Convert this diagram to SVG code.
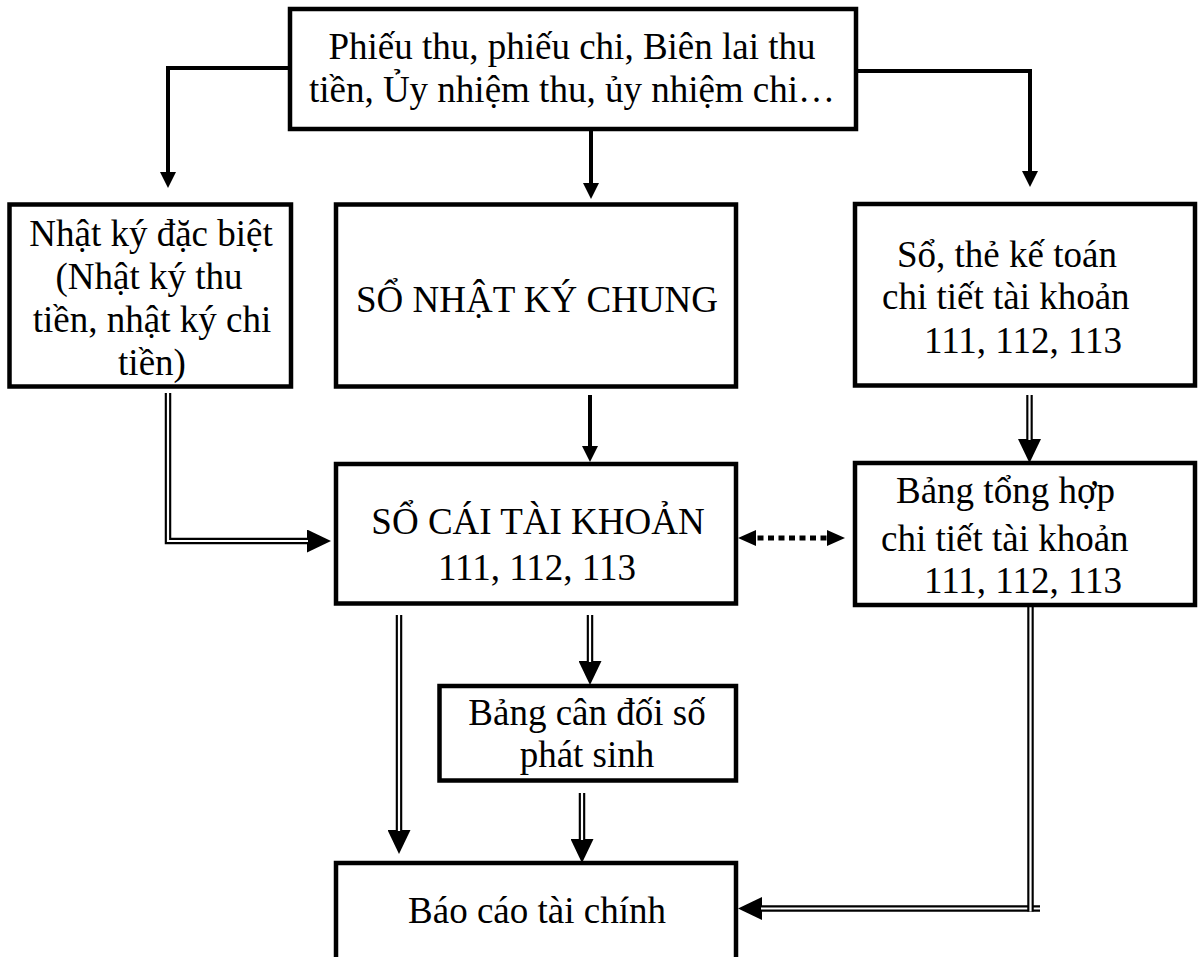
<svg xmlns="http://www.w3.org/2000/svg" width="1198" height="957" viewBox="0 0 1198 957">
  <style>
    .box { fill: #ffffff; stroke: #000000; stroke-width: 4.5; }
    .lbl { font-family: "Liberation Serif", "Times New Roman", serif; font-size: 37px; fill: #000000; }
    .mid { text-anchor: middle; }
    .single { fill: none; stroke: #000000; stroke-width: 4; }
    .dbl-outer { fill: none; stroke: #000000; stroke-width: 6.5; stroke-linejoin: miter; }
    .dbl-inner { fill: none; stroke: #ffffff; stroke-width: 2.2; stroke-linejoin: miter; }
    .dotted { fill: none; stroke: #000000; stroke-width: 5; stroke-dasharray: 6 4.5; }
  </style>
  <defs>
    <marker id="head-s" markerUnits="userSpaceOnUse" markerWidth="16" markerHeight="16" refX="8" refY="8" orient="auto">
      <path d="M0,0 L16,8 L0,16 z" fill="#000000"/>
    </marker>
    <marker id="head-d" markerUnits="userSpaceOnUse" markerWidth="24" markerHeight="23" refX="12" refY="11.5" orient="auto">
      <path d="M0,0 L24,11.5 L0,23 z" fill="#000000"/>
    </marker>
    <marker id="head-dot" markerUnits="userSpaceOnUse" markerWidth="18" markerHeight="16" refX="9" refY="8" orient="auto-start-reverse">
      <path d="M0,0 L18,8 L0,16 z" fill="#000000"/>
    </marker>
  </defs>

  <!-- connectors -->
  <g id="connectors">
    <!-- source documents fan out to the three journals -->
    <path class="single" d="M308,68 H168 V180" marker-end="url(#head-s)"/>
    <path class="single" d="M591,129 V191" marker-end="url(#head-s)"/>
    <path class="single" d="M856,71 H1030 V179" marker-end="url(#head-s)"/>

    <!-- general journal to ledger -->
    <path class="single" d="M590,395 V454" marker-end="url(#head-s)"/>

    <!-- detail books to detail summary (double line) -->
    <path class="dbl-outer" d="M1029.5,395 V451" marker-end="url(#head-d)"/>
    <path class="dbl-inner" d="M1029.5,395 V440"/>

    <!-- special journals to ledger (double line) -->
    <path class="dbl-outer" d="M168,393 V541 H319" marker-end="url(#head-d)"/>
    <path class="dbl-inner" d="M168,393 V541 H308"/>

    <!-- reconciliation between ledger and detail summary -->
    <path class="dotted" d="M747,538 H836" marker-start="url(#head-dot)" marker-end="url(#head-dot)"/>

    <!-- ledger to financial statements -->
    <path class="dbl-outer" d="M399,615 V842" marker-end="url(#head-d)"/>
    <path class="dbl-inner" d="M399,615 V831"/>

    <!-- ledger to trial balance -->
    <path class="dbl-outer" d="M590,615 V673" marker-end="url(#head-d)"/>
    <path class="dbl-inner" d="M590,615 V662"/>

    <!-- trial balance to financial statements -->
    <path class="dbl-outer" d="M582,793 V851" marker-end="url(#head-d)"/>
    <path class="dbl-inner" d="M582,793 V840"/>

    <!-- detail summary to financial statements -->
    <path class="dbl-outer" d="M1040,908.5 H750" marker-end="url(#head-d)"/>
    <path class="dbl-inner" d="M1040,908.5 H761"/>
    <path class="dbl-outer" d="M1030.5,600 V911.5"/>
    <path class="dbl-inner" d="M1030.5,600 V911.5"/>
  </g>

  <g id="node-source">
    <rect class="box" x="290" y="9" width="566" height="120"/>
    <text class="lbl mid" x="572" y="59">Phiếu thu, phiếu chi, Biên lai thu</text>
    <text class="lbl mid" x="572" y="102">tiền, Ủy nhiệm thu, ủy nhiệm chi…</text>
  </g>

  <g id="node-special-journal">
    <rect class="box" x="9.5" y="204.5" width="281.5" height="182"/>
    <text class="lbl mid" x="151" y="246">Nhật ký đặc biệt</text>
    <text class="lbl mid" x="149" y="289">(Nhật ký thu</text>
    <text class="lbl mid" x="152" y="332">tiền, nhật ký chi</text>
    <text class="lbl mid" x="152" y="375">tiền)</text>
  </g>

  <g id="node-general-journal">
    <rect class="box" x="336" y="204.5" width="400" height="182"/>
    <text class="lbl mid" x="537" y="312">SỔ NHẬT KÝ CHUNG</text>
  </g>

  <g id="node-detail-books">
    <rect class="box" x="855" y="204" width="340" height="181.5"/>
    <text class="lbl" x="897" y="267">Sổ, thẻ kế toán</text>
    <text class="lbl" x="882" y="309">chi tiết tài khoản</text>
    <text class="lbl" x="924" y="353">111, 112, 113</text>
  </g>

  <g id="node-ledger">
    <rect class="box" x="336" y="464" width="400" height="139.5"/>
    <text class="lbl mid" x="538" y="534">SỔ CÁI TÀI KHOẢN</text>
    <text class="lbl mid" x="537" y="580">111, 112, 113</text>
  </g>

  <g id="node-detail-summary">
    <rect class="box" x="855" y="463" width="340" height="142"/>
    <text class="lbl" x="896" y="503">Bảng tổng hợp</text>
    <text class="lbl" x="881" y="551">chi tiết tài khoản</text>
    <text class="lbl" x="924" y="593">111, 112, 113</text>
  </g>

  <g id="node-trial-balance">
    <rect class="box" x="439.5" y="686" width="296.5" height="94.5"/>
    <text class="lbl mid" x="587" y="725">Bảng cân đối số</text>
    <text class="lbl mid" x="587" y="767">phát sinh</text>
  </g>

  <g id="node-financial-statements">
    <rect class="box" x="336" y="863" width="400" height="130"/>
    <text class="lbl mid" x="537" y="923">Báo cáo tài chính</text>
  </g>
</svg>
